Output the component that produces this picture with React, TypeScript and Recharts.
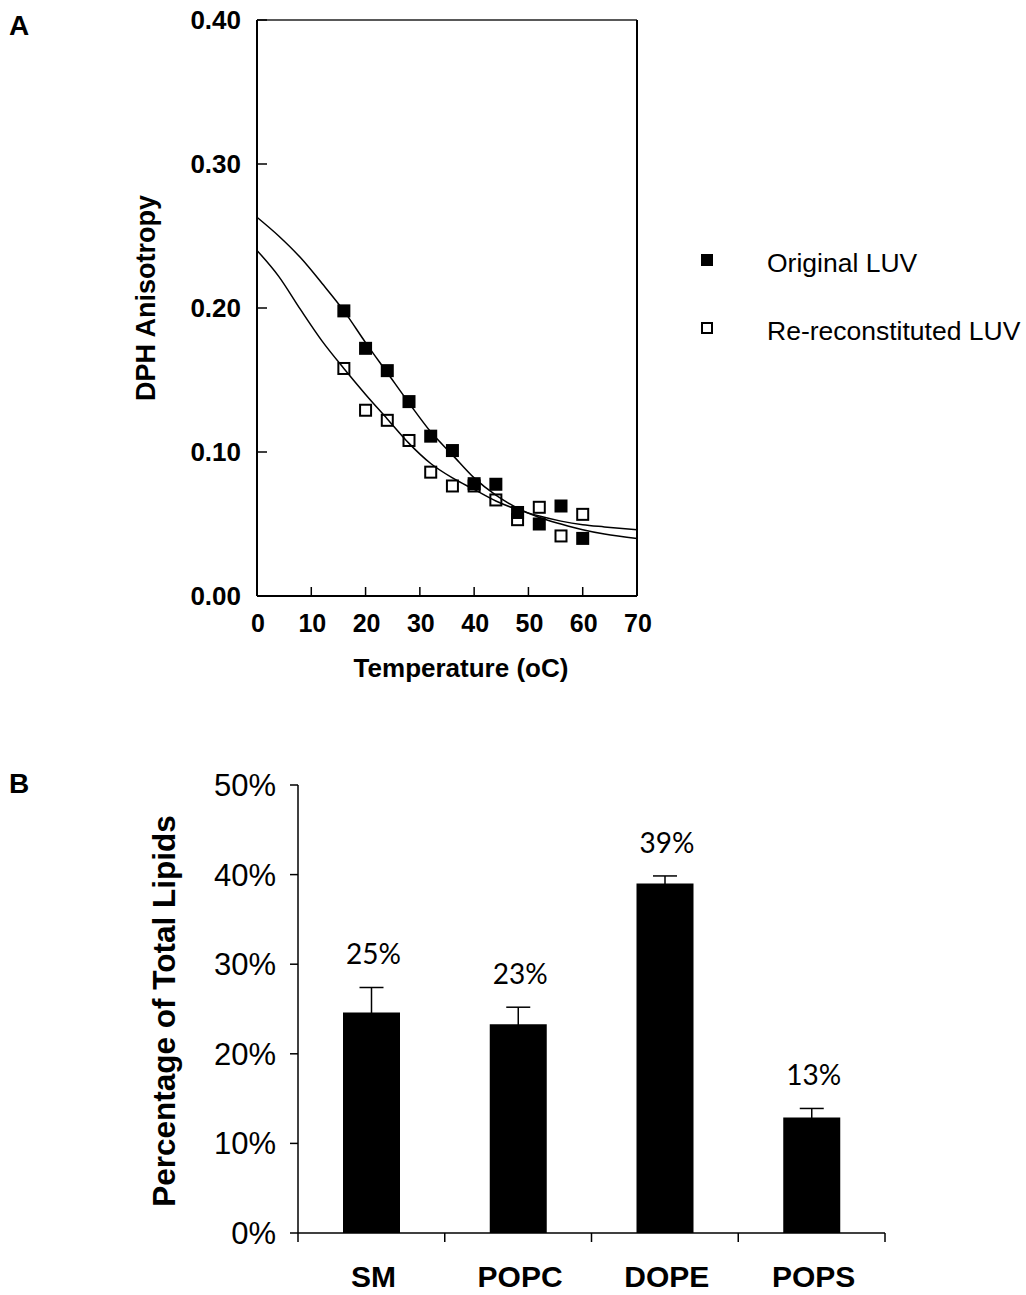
import React from 'react';
import {
  ComposedChart, Scatter, Line, XAxis, YAxis, ReferenceLine, Legend,
  BarChart, Bar, ErrorBar, LabelList,
} from 'recharts';

const font = '"Liberation Sans", Arial, sans-serif';

// Panel A: DPH anisotropy vs temperature
const originalLUV = [
  { t: 16, v: 0.198 }, { t: 20, v: 0.172 }, { t: 24, v: 0.1565 }, { t: 28, v: 0.135 },
  { t: 32, v: 0.111 }, { t: 36, v: 0.101 }, { t: 40, v: 0.078 }, { t: 44, v: 0.0776 },
  { t: 48, v: 0.058 }, { t: 52, v: 0.050 }, { t: 56, v: 0.0625 }, { t: 60, v: 0.040 },
];
const reconLUV = [
  { t: 16, v: 0.158 }, { t: 20, v: 0.129 }, { t: 24, v: 0.122 }, { t: 28, v: 0.108 },
  { t: 32, v: 0.086 }, { t: 36, v: 0.0764 }, { t: 40, v: 0.0764 }, { t: 44, v: 0.0667 },
  { t: 48, v: 0.053 }, { t: 52, v: 0.0616 }, { t: 56, v: 0.0417 }, { t: 60, v: 0.0567 },
];
// fitted curves
const originalFit = [
  { t: 0, v: 0.263 }, { t: 4, v: 0.250 }, { t: 8, v: 0.235 }, { t: 12, v: 0.217 },
  { t: 16, v: 0.198 }, { t: 20, v: 0.176 }, { t: 24, v: 0.155 }, { t: 28, v: 0.134 },
  { t: 32, v: 0.114 }, { t: 36, v: 0.098 }, { t: 40, v: 0.082 }, { t: 44, v: 0.070 },
  { t: 48, v: 0.061 }, { t: 52, v: 0.0545 }, { t: 56, v: 0.050 }, { t: 60, v: 0.046 },
  { t: 64, v: 0.043 }, { t: 70, v: 0.040 },
];
const reconFit = [
  { t: 0, v: 0.240 }, { t: 4, v: 0.222 }, { t: 8, v: 0.199 }, { t: 12, v: 0.177 },
  { t: 16, v: 0.158 }, { t: 20, v: 0.140 }, { t: 24, v: 0.123 }, { t: 28, v: 0.106 },
  { t: 32, v: 0.092 }, { t: 36, v: 0.082 }, { t: 40, v: 0.074 }, { t: 44, v: 0.066 },
  { t: 48, v: 0.060 }, { t: 52, v: 0.0555 }, { t: 56, v: 0.052 }, { t: 60, v: 0.0495 },
  { t: 64, v: 0.048 }, { t: 70, v: 0.046 },
];
const tempTicks = [0, 10, 20, 30, 40, 50, 60, 70];
const anisoTicks = [0, 0.1, 0.2, 0.3, 0.4];
const legendItems = [
  { name: 'Original LUV', filled: true },
  { name: 'Re-reconstituted LUV', filled: false },
];

// Panel B: lipid composition
const lipids = ['SM', 'POPC', 'DOPE', 'POPS'];
const lipidPct = [24.6, 23.3, 39.0, 12.9];
const lipidErr = [2.8, 1.9, 0.85, 1.0];
const lipidLabels = ['25%', '23%', '39%', '13%'];
const pctTicks = [0, 10, 20, 30, 40, 50];

const lipidData = lipids.map((lipid, i) => ({
  lipid, pct: lipidPct[i], err: lipidErr[i], label: lipidLabels[i],
}));

const PLOT_B_H = 448;
const PX_PER_PCT = PLOT_B_H / 50;

const FilledSquare = (p: any) => (
  <rect x={p.cx - 6.5} y={p.cy - 6.5} width={13} height={13} fill="#000" />
);
const OpenSquare = (p: any) => (
  <rect x={p.cx - 5.5} y={p.cy - 5.5} width={11} height={11} fill="none" stroke="#000" strokeWidth={2} />
);

const TempTick = ({ x, y, payload }: any) => (
  <g>
    <line x1={x} x2={x} y1={y} y2={y - 9} stroke="#000" strokeWidth={1.5} />
    <text x={x + 1} y={y + 36} textAnchor="middle" fontSize={25} fontWeight="bold" fontFamily={font} fill="#000">
      {payload.value}
    </text>
  </g>
);

const AnisoTick = ({ x, y, payload }: any) => (
  <g>
    <line x1={x} x2={x + 10} y1={y} y2={y} stroke="#000" strokeWidth={1.5} />
    <text x={x - 16} y={y} dy={9} textAnchor="end" fontSize={26} fontWeight="bold" fontFamily={font} fill="#000">
      {Number(payload.value).toFixed(2)}
    </text>
  </g>
);

const LipidTick = ({ x, y, payload, index, visibleTicksCount }: any) => {
  const half = payload.offset || 73.4;
  return (
    <g>
      <line x1={x - half} x2={x - half} y1={y} y2={y + 9} stroke="#000" strokeWidth={1.5} />
      {index === visibleTicksCount - 1 && (
        <line x1={x + half} x2={x + half} y1={y} y2={y + 9} stroke="#000" strokeWidth={1.5} />
      )}
      <text x={x + 2} y={y + 54} textAnchor="middle" fontSize={30} fontWeight="bold" fontFamily={font} fill="#000">
        {payload.value}
      </text>
    </g>
  );
};

const renderPctLabel = (p: any) => {
  const idx = typeof p.index === 'number' ? p.index : lipidLabels.indexOf(p.value);
  const top = p.y - lipidErr[idx] * PX_PER_PCT;
  return (
    <text x={p.x + p.width / 2 + 2} y={top - 23} textAnchor="middle" fontSize={28} fontFamily="Lato, sans-serif" fill="#000">
      {lipidLabels[idx]}
    </text>
  );
};

const renderLegend = () => (
  <div style={{ fontFamily: font, fontSize: 26.5, color: '#000' }}>
    {legendItems.map((it, i) => (
      <div key={it.name} style={{ display: 'flex', alignItems: 'center', height: 34, marginBottom: i === 0 ? 34 : 0 }}>
        <svg width={14} height={14} style={{ marginRight: 53, marginTop: -6 }}>
          {it.filled
            ? <rect x={1} y={1} width={12} height={12} fill="#000" />
            : <rect x={2} y={2} width={10} height={10} fill="none" stroke="#000" strokeWidth={2} />}
        </svg>
        <span style={{ whiteSpace: 'nowrap' }}>{it.name}</span>
      </div>
    ))}
  </div>
);

const abs = (left: number, top: number, extra: React.CSSProperties = {}): React.CSSProperties => ({
  position: 'absolute', left, top, fontFamily: font, color: '#000', lineHeight: 1, whiteSpace: 'nowrap', ...extra,
});

export default function App() {
  return (
    <div style={{ position: 'absolute', left: 0, top: 0, width: 1026, height: 1295, background: '#fff', overflow: 'hidden' }}>
      <div style={abs(9, 12, { fontSize: 28, fontWeight: 'bold' })}>A</div>
      <div style={abs(9, 770, { fontSize: 28, fontWeight: 'bold' })}>B</div>

      <div style={{ position: 'absolute', left: 0, top: 0 }}>
        <ComposedChart width={1026} height={700} margin={{ top: 20, right: 389, left: 0, bottom: 0 }}>
          <XAxis
            dataKey="t" type="number" domain={[0, 70]} ticks={tempTicks} height={104}
            tickSize={0} tickMargin={0} tickLine={false} tick={<TempTick />}
            axisLine={{ stroke: '#000', strokeWidth: 2 }}
          />
          <YAxis
            dataKey="v" type="number" domain={[0, 0.4]} ticks={anisoTicks} width={257}
            tickSize={0} tickMargin={0} tickLine={false} tick={<AnisoTick />}
            axisLine={{ stroke: '#000', strokeWidth: 2 }}
          />
          <ReferenceLine y={0.4} stroke="#222" strokeWidth={1.5} />
          <ReferenceLine x={70} stroke="#000" strokeWidth={2} />
          <Line data={originalFit} dataKey="v" type="monotone" stroke="#000" strokeWidth={1.5} dot={false} isAnimationActive={false} />
          <Line data={reconFit} dataKey="v" type="monotone" stroke="#000" strokeWidth={1.5} dot={false} isAnimationActive={false} />
          <Scatter data={reconLUV} dataKey="v" shape={OpenSquare} isAnimationActive={false} />
          <Scatter data={originalLUV} dataKey="v" shape={FilledSquare} isAnimationActive={false} />
          <Legend
            layout="vertical" align="center" verticalAlign="middle" content={renderLegend}
            wrapperStyle={{ left: 700, top: 246, width: 326 }}
          />
        </ComposedChart>
      </div>

      <div style={abs(461, 668, { fontSize: 26, fontWeight: 'bold', transform: 'translate(-50%, -50%)' })}>
        Temperature (oC)
      </div>
      <div style={abs(146, 298, { fontSize: 27, fontWeight: 'bold', transform: 'translate(-50%, -50%) rotate(-90deg)' })}>
        DPH Anisotropy
      </div>

      <div style={{ position: 'absolute', left: 0, top: 760 }}>
        <BarChart width={1026} height={535} data={lipidData} margin={{ top: 25, right: 141, left: 0, bottom: 0 }} barSize={57}>
          <XAxis
            dataKey="lipid" height={62} tickSize={0} tickMargin={0} tickLine={false}
            tick={<LipidTick />} axisLine={{ stroke: '#000', strokeWidth: 1.5 }}
          />
          <YAxis
            width={298} domain={[0, 50]} ticks={pctTicks} tickFormatter={(v: number) => `${v}%`}
            tickSize={8} tickMargin={14}
            tick={{ fontSize: 31, fill: '#000', fontFamily: font }}
            tickLine={{ stroke: '#000', strokeWidth: 1.5 }}
            axisLine={{ stroke: '#000', strokeWidth: 1.5 }}
          />
          <Bar dataKey="pct" fill="#000" isAnimationActive={false}>
            <ErrorBar dataKey="err" direction="y" width={12} stroke="#000" strokeWidth={1.5} />
            <LabelList dataKey="label" content={renderPctLabel} />
          </Bar>
        </BarChart>
      </div>

      <div style={abs(165, 1011, { fontSize: 31.5, fontWeight: 'bold', transform: 'translate(-50%, -50%) rotate(-90deg)' })}>
        Percentage of Total Lipids
      </div>
    </div>
  );
}
